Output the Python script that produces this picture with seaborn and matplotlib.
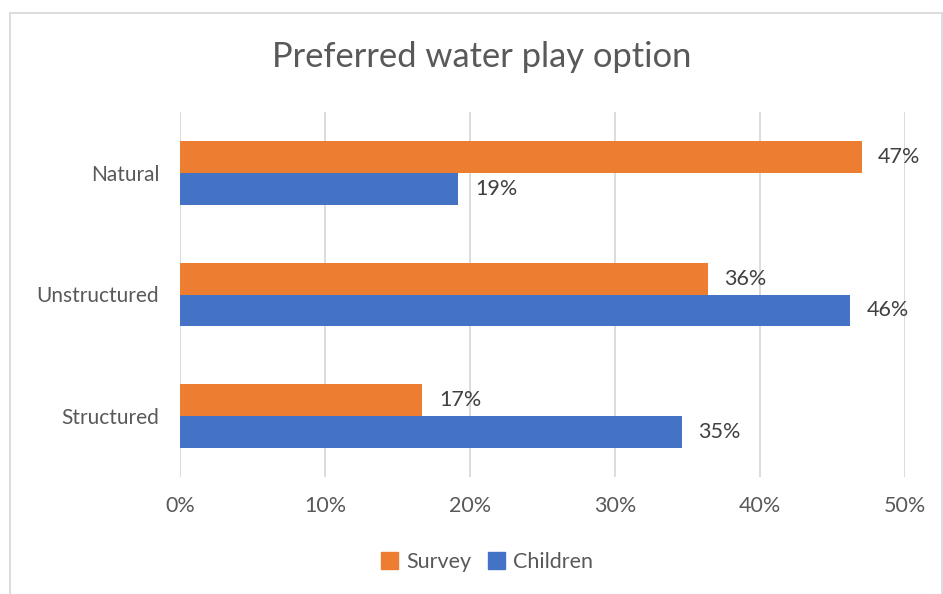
import matplotlib
matplotlib.use("Agg")
import matplotlib.pyplot as plt
import seaborn as sns
import pandas as pd
from matplotlib.patches import Rectangle

# data
categories = ["Natural", "Unstructured", "Structured"]
survey = [0.470, 0.364, 0.167]
children = [0.192, 0.462, 0.346]
series = ["Survey", "Children"]
colors = ["#ED7D31", "#4472C4"]
xticks = [0, 0.1, 0.2, 0.3, 0.4, 0.5]

df = pd.DataFrame({
    "category": categories * 2,
    "value": survey + children,
    "series": [series[0]] * 3 + [series[1]] * 3,
})

sns.set_theme(style="white")
plt.rcParams["font.family"] = ["Lato", "DejaVu Sans"]

fig = plt.figure(figsize=(9.43, 5.94), dpi=100)
W, H = 943, 594
ax = fig.add_axes([180 / W, 1 - 477 / H, (905 - 180) / W, (477 - 112) / H])

sns.barplot(data=df, x="value", y="category", hue="series", hue_order=series,
            order=categories, palette=colors, orient="h", width=0.525,
            saturation=1, ax=ax, legend=False, linewidth=0)

ax.set_xlim(0, 0.5)
ax.set_ylim(2.5, -0.5)
ax.set_xticks(xticks)
ax.set_xticklabels([f"{int(round(t * 100))}%" for t in xticks])
ax.grid(axis="x", color="#d9d9d9", linewidth=1.3)
ax.set_axisbelow(True)
for s in ax.spines.values():
    s.set_visible(False)
ax.set_xlabel("")
ax.set_ylabel("")
ax.tick_params(axis="x", colors="#595959", labelsize=15.5, pad=14, length=0)
ax.tick_params(axis="y", colors="#595959", labelsize=15, pad=15, length=0)

for cont in ax.containers:
    ax.bar_label(cont, labels=[f"{round(v * 100):.0f}%" for v in cont.datavalues],
                 padding=12, fontsize=15.5, color="#404040")

fig.text(482 / W, 1 - 57 / H, "Preferred water play option", ha="center",
         va="center", fontsize=24.8, color="#595959")

# legend
handles = [Rectangle((0, 0), 1, 1, color=c) for c in colors]
fig.legend(handles, series, loc="center", bbox_to_anchor=(487 / W, 1 - 562 / H),
           ncol=2, frameon=False, fontsize=15.5, labelcolor="#595959",
           handlelength=0.8, handleheight=0.8, handletextpad=0.35, columnspacing=0.8)

# chart border
fig.patches.append(Rectangle((10 / W, -0.05), (W - 11) / W, 1 - 13 / H + 0.05,
                             transform=fig.transFigure, fill=False,
                             edgecolor="#d9d9d9", linewidth=1.3))

fig.savefig("out.png", dpi=100)
